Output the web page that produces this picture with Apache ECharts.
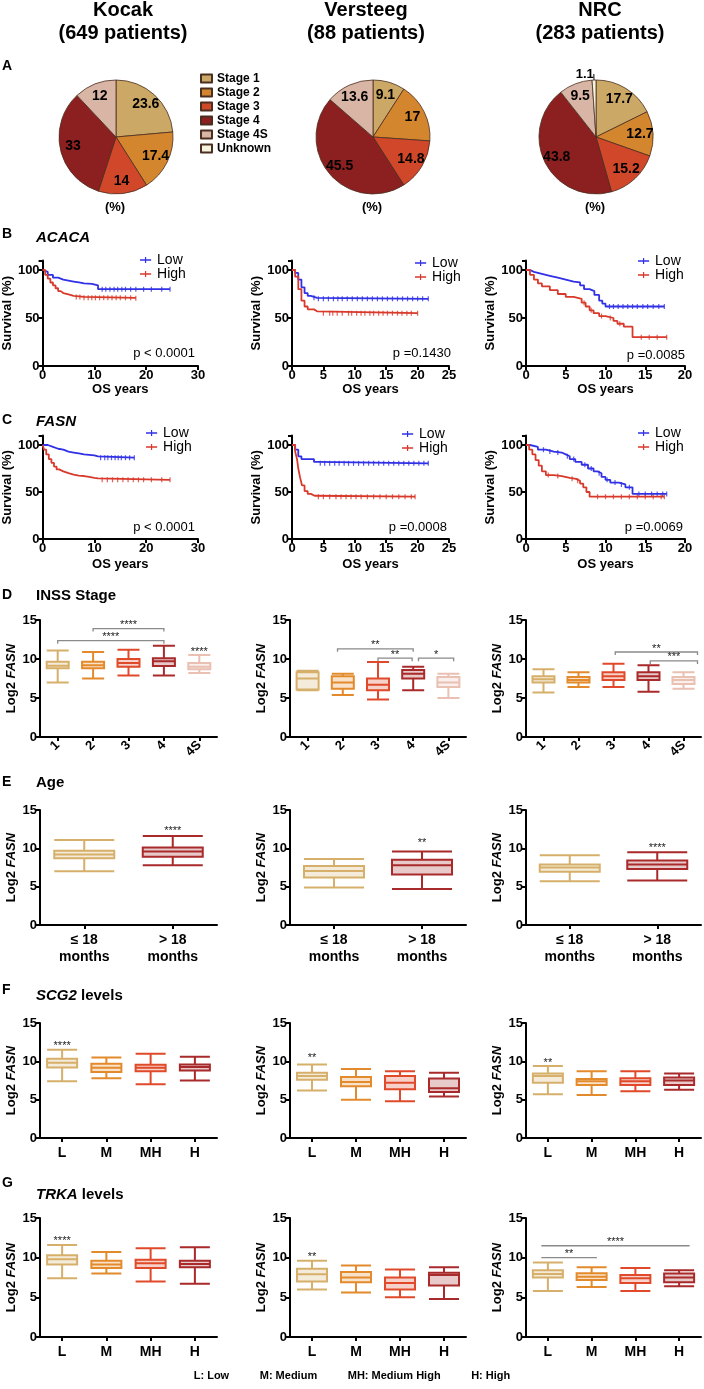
<!DOCTYPE html>
<html><head><meta charset="utf-8">
<script src="https://cdn.jsdelivr.net/npm/echarts@6/dist/echarts.min.js"></script>
<style>html,body{margin:0;padding:0;background:#fff}#c{width:704px;height:1389px}</style>
</head><body><div id="c"></div>
<script>
const FONT = '"Liberation Sans", Arial, Helvetica, sans-serif';
// ---------- titles ----------
const cohortNames = ['Kocak', 'Versteeg', 'NRC'];
const cohortSizes = ['(649 patients)', '(88 patients)', '(283 patients)'];
// ---------- A: pies ----------
const stageNames = ['Stage 1', 'Stage 2', 'Stage 3', 'Stage 4', 'Stage 4S', 'Unknown'];
const stageColors = ['#CBA866', '#D4862F', '#D1472A', '#8C1F1F', '#D9B5A5', '#F5F2DD'];
const pieKocak = [23.6, 17.4, 14, 33, 12, 0];
const pieVersteeg = [9.1, 17, 14.8, 45.5, 13.6, 0];
const pieNRC = [17.7, 12.7, 15.2, 43.8, 9.5, 1.1];
// ---------- B/C: Kaplan-Meier ----------
const kmGroups = ['Low', 'High'];
const pACACA = ['p < 0.0001', 'p =0.1430', 'p =0.0085'];
const pFASN = ['p < 0.0001', 'p =0.0008', 'p =0.0069'];
const acacaKocakLow = [[0,100],[0.3,98],[1,95],[2,92],[3,90],[4,89],[5,88],[6,87],[7,86],[8,85.5],[9.5,84],[10.7,80],[24.6,80]];
const acacaKocakHigh = [[0,100],[0.5,95],[1,91],[1.5,87],[2,84],[2.5,81],[3,78],[3.5,76],[4,74.5],[5,73],[6,72],[8,71],[18,70.5]];
const acacaVersteegLow = [[0,100],[0.5,97],[1,90],[1.5,82],[2,76],[2.5,73],[3,71],[4,70],[21.7,70]];
const acacaVersteegHigh = [[0,100],[0.5,93],[1,80],[1.5,68],[2,62],[2.5,59],[3.5,57],[4,55],[20,55]];
const acacaNRCLow = [[0,100],[0.5,98],[1,96],[2,94],[3,92],[4,90],[5,88],[6,87],[6.8,84],[7.3,80],[8,78],[8.6,74],[9.2,68],[9.6,65],[10,62],[17.4,62]];
const acacaNRCHigh = [[0,100],[0.5,95],[1,90],[1.5,86],[2,83],[3,79],[4,75],[5,72],[6,70],[7,66],[7.5,62],[8,58],[8.5,55],[9.2,52],[10,50],[11,47],[11.5,44],[12.3,41],[13.4,30],[17.7,30]];
const fasnKocakLow = [[0,100],[1,98],[2,96],[3,95],[4,93],[5,92],[6,91],[7,90],[8,89.5],[9,89],[10,88],[10.7,86.5],[17.7,86.5]];
const fasnKocakHigh = [[0,100],[0.3,95],[0.7,90],[1.2,85],[1.7,81],[2.2,77],[2.7,74],[3.2,72],[4,70],[5,68.5],[6,67.5],[7,67],[8,66],[9,65],[10,64.5],[10.7,63],[24.6,63]];
const fasnVersteegLow = [[0,100],[0.5,95],[1,88],[1.5,85],[3.5,82],[4,80.5],[21.7,80.5]];
const fasnVersteegHigh = [[0,100],[0.5,93],[0.8,85],[1,75],[1.3,65],[1.6,57],[2,51],[2.5,48],[3,46],[3.6,45],[19.6,45]];
const fasnNRCLow = [[0,100],[0.5,98],[1.5,95],[2.5,93],[3.5,92],[4.5,90],[5,88],[5.5,85],[6.2,82],[7,79],[7.8,75],[8.5,72],[9,70],[9.5,66],[10,63],[10.6,60],[11.7,58],[12.5,55],[13.4,48],[17.7,48]];
const fasnNRCHigh = [[0,100],[0.4,95],[0.8,90],[1.2,84],[1.6,78],[2,72],[2.5,68],[3.5,67],[4.5,65],[5.5,64],[6.3,62],[6.8,59],[7.2,55],[7.6,50],[8,45],[17.4,45]];
const acacaKocakLowCens = [11.5,12.2,13,13.8,14.5,15.3,16,17,18,19.5,21,23,24.6];
const acacaKocakHighCens = [6.5,7.2,8,8.8,9.5,10.2,11,11.8,12.6,13.4,14.2,15,16,17,18];
const acacaVersteegLowCens = [3.5,4.2,5,5.8,6.6,7.3,8,8.8,9.6,10.4,11.2,12,12.8,13.6,14.4,15.2,16,16.8,17.6,18.4,19.2,20,20.8,21.7];
const acacaVersteegHighCens = [5,6,6.5,7.2,8,9,9.5,10.3,11,11.6,12.4,13,13.8,14.5,15.2,16,16.8,17.5,18.3,19,20];
const acacaNRCLowCens = [10.5,11,11.6,12.2,12.8,13.4,14,14.7,15.3,16,16.7,17.4];
const acacaNRCHighCens = [7.3,8.2,9.5,10.6,11.8,14.5,15.5,16.5,17.7];
const fasnKocakLowCens = [11.2,12,12.6,13.3,14,14.6,15.2,16,16.8,17.7];
const fasnKocakHighCens = [11.5,12.5,13.5,14.5,15.5,16.5,17.5,18.5,19.5,21,23,24.6];
const fasnVersteegLowCens = [4.5,5.2,6,6.8,7.5,8.3,9,9.8,10.6,11.4,12.2,13,13.8,14.6,15.4,16.2,17,17.8,18.6,19.4,20.2,21,21.7];
const fasnVersteegHighCens = [4.2,5,6,7,7.8,8.6,9.4,10.2,11,12,13,14,15,16,17,18,19,19.6];
const fasnNRCLowCens = [2.2,3,4,5.2,6,7.4,8.2,9.2,10.2,11.2,12,13,14.2,15,15.8,16.5,17.2,17.7];
const fasnNRCHighCens = [2.8,4,5.8,6.5,9,10,11,12,13,14,15,16,17,17.4];
// ---------- D-G: box plots [min, Q1, median, Q3, max] ----------
const inssCats = ['1', '2', '3', '4', '4S'];
const ageCats = ['≤ 18\nmonths', '> 18\nmonths'];
const levelCats = ['L', 'M', 'MH', 'H'];
const inssKocak = [[7.0,8.8,9.15,9.65,11.1],[7.5,8.8,9.2,9.65,10.9],[7.9,9.0,9.5,10.0,11.2],[7.9,9.1,9.7,10.1,11.7],[8.2,8.7,9.0,9.5,10.5]];
const inssVersteeg = [[6.0,6.1,7.5,8.3,8.5],[5.4,6.2,7.0,7.8,8.1],[4.8,6.0,6.7,7.5,9.6],[6.0,7.5,8.1,8.6,9.0],[5.0,6.4,7.0,7.7,8.1]];
const inssNRC = [[5.7,7.0,7.4,7.8,8.7],[6.4,7.0,7.3,7.7,8.3],[6.4,7.3,7.8,8.3,9.4],[5.8,7.3,7.8,8.3,9.2],[6.2,6.8,7.3,7.7,8.3]];
const ageKocak = [[7.0,8.7,9.2,9.7,11.1],[7.8,8.9,9.6,10.1,11.6]];
const ageVersteeg = [[4.9,6.2,7.05,7.7,8.6],[4.7,6.6,7.8,8.5,9.6]];
const ageNRC = [[5.7,6.95,7.5,7.9,9.1],[5.8,7.3,7.9,8.4,9.5]];
const scgKocak = [[7.4,9.2,9.8,10.35,11.5],[7.8,8.6,9.17,9.7,10.5],[7.0,8.7,9.17,9.57,11.0],[7.5,8.8,9.26,9.6,10.6]];
const scgVersteeg = [[6.2,7.6,8.1,8.5,9.6],[5.0,6.75,7.3,7.95,9.0],[4.8,6.35,7.2,8.1,8.7],[5.4,6.0,6.5,7.75,8.5]];
const scgNRC = [[5.7,7.2,8.1,8.4,9.4],[5.6,6.9,7.4,7.7,8.7],[6.1,6.9,7.4,7.8,8.7],[6.3,6.9,7.5,7.9,8.4]];
const trkaKocak = [[7.4,9.15,9.8,10.3,11.6],[8.0,8.7,9.15,9.6,10.7],[7.0,8.7,9.3,9.75,11.2],[6.7,8.8,9.2,9.6,11.3]];
const trkaVersteeg = [[6.0,7.0,7.9,8.6,9.6],[5.6,6.9,7.5,8.2,9.0],[5.0,6.0,6.8,7.5,8.5],[4.8,6.5,7.8,8.1,8.8]];
const trkaNRC = [[5.8,7.5,7.95,8.4,9.4],[6.3,7.2,7.6,8.05,8.8],[5.8,6.8,7.4,7.8,8.7],[6.4,6.9,7.5,8.0,8.4]];
// significance: [fromCategory, toCategory, log2 level, label, endTicks]
const sigInssKocak = [[1,3,13.9,'****',1],[0,3,12.35,'****',1],[4,4,11.3,'****',0]];
const sigInssVersteeg = [[0.85,3,11.3,'**',1],[2,2.97,10.1,'**',1],[3.15,4.15,10.1,'*',1]];
const sigInssNRC = [[2.05,4.4,10.9,'**',1],[3.05,4.4,9.75,'***',1]];
const sigAgeKocak = [[1,1,12.6,'****',0]];
const sigAgeVersteeg = [[1,1,11.1,'**',0]];
const sigAgeNRC = [[1,1,10.4,'****',0]];
const sigScgKocak = [[0,0,12.4,'****',0]];
const sigScgVersteeg = [[0,0,10.8,'**',0]];
const sigScgNRC = [[0,0,10.2,'**',0]];
const sigTrkaKocak = [[0,0,12.5,'****',0]];
const sigTrkaVersteeg = [[0,0,10.5,'**',0]];
const sigTrkaNRC = [[-0.15,3.24,11.5,'****',0],[-0.15,1.12,10.0,'**',0]];
const footerText = 'L: Low          M: Medium          MH: Medium High          H: High';

// ======================= build =======================
const BLUE = '#3030E6', RED = '#D8392B';
const C_TAN = '#D6B06A', C_OR = '#E38A2C', C_RD = '#E04A2A', C_DR = '#A92A2A', C_PK = '#E9C0B2';
const BOLD = {fontFamily: FONT, fontWeight: 'bold', color: '#000'};
const grids = [], xAxes = [], yAxes = [], series = [], legends = [], graphics = [];
const axLine = {show: true, lineStyle: {color: '#000', width: 2}};
const axTick = {show: true, inside: false, length: 4, lineStyle: {color: '#000', width: 2}};
function addGrid(left, top, width, height) { grids.push({left, top, width, height}); return grids.length - 1; }
function text(x, y, t, style) {
  graphics.push({type: 'text', x, y, silent: true, style: Object.assign({text: t, fontFamily: FONT, fontWeight: 'bold', fontSize: 13, fill: '#000', align: 'center', verticalAlign: 'middle'}, style || {})});
}
function survAt(curve, t) { let v = curve[0][1]; for (const p of curve) { if (p[0] <= t) v = p[1]; } return v; }

// titles
const titleX = [123, 366, 600];
cohortNames.forEach((n, i) => { text(titleX[i], 10, n, {fontSize: 20}); text(titleX[i], 33, cohortSizes[i], {fontSize: 20}); });
// panel letters & subtitles
[['A',66],['B',234],['C',420],['D',595],['E',782],['F',990],['G',1183]].forEach(d => text(2, d[1], d[0], {align: 'left', fontSize: 14}));
graphics.push({type: 'text', x: 36, y: 238, silent: true, style: {text: 'ACACA', fontFamily: FONT, fontWeight: 'bold', fontStyle: 'italic', fontSize: 15, fill: '#000', verticalAlign: 'middle'}});
graphics.push({type: 'text', x: 36, y: 422, silent: true, style: {text: 'FASN', fontFamily: FONT, fontWeight: 'bold', fontStyle: 'italic', fontSize: 15, fill: '#000', verticalAlign: 'middle'}});
text(36, 596, 'INSS Stage', {align: 'left', fontSize: 15});
text(36, 783, 'Age', {align: 'left', fontSize: 15});
graphics.push({type: 'text', x: 36, y: 996, silent: true, style: {text: '{i|SCG2} levels', rich: {i: {fontStyle: 'italic', fontWeight: 'bold', fontFamily: FONT, fontSize: 15}}, fontFamily: FONT, fontWeight: 'bold', fontSize: 15, fill: '#000', verticalAlign: 'middle'}});
graphics.push({type: 'text', x: 36, y: 1195, silent: true, style: {text: '{i|TRKA} levels', rich: {i: {fontStyle: 'italic', fontWeight: 'bold', fontFamily: FONT, fontSize: 15}}, fontFamily: FONT, fontWeight: 'bold', fontSize: 15, fill: '#000', verticalAlign: 'middle'}});
text(352, 1376, footerText, {fontSize: 11, whiteSpace: 'pre'});

// ---------- pies ----------
const pieCenters = [[116,137],[373,137],[596,137]];
const pieR = 57;
[pieKocak, pieVersteeg, pieNRC].forEach((vals, k) => {
  const items = [];
  vals.forEach((v, i) => { if (v > 0) items.push({name: stageNames[i], value: v, itemStyle: {color: stageColors[i]}}); });
  series.push({type: 'pie', center: pieCenters[k], radius: [0, pieR], startAngle: 90, clockwise: true, silent: true,
    itemStyle: {borderColor: '#4a2e20', borderWidth: 0.8},
    label: {show: false},
    labelLine: {show: false},
    data: items.map(d => Object.assign({}, d, d.name === 'Unknown' ? {
      label: {show: true, position: 'outside', formatter: p => String(p.value), fontFamily: FONT, fontWeight: 'bold', fontSize: 13, color: '#000', distanceToLabelLine: 0, align: 'center', verticalAlign: 'bottom'},
      labelLine: {show: true, length: 6, length2: 0, lineStyle: {color: '#000', width: 1}}} : {}))});
  series.push({type: 'pie', center: pieCenters[k], radius: [0, pieR / 0.68 * 0.98], startAngle: 90, clockwise: true, silent: true,
    itemStyle: {color: 'rgba(0,0,0,0)', borderWidth: 0},
    label: {show: true, position: 'inside', formatter: p => p.name === 'Unknown ' ? '' : String(p.value), fontFamily: FONT, fontWeight: 'bold', fontSize: 14, color: '#000'},
    labelLine: {show: false}, legendHoverLink: false,
    data: items.map(d => ({name: d.name + ' ', value: d.value}))});
  text(pieCenters[k][0] - 1, 207, '(%)');
});
legends.push({data: stageNames, orient: 'vertical', left: 200, top: 72.5, itemWidth: 11, itemHeight: 8, itemGap: 2, icon: 'rect', padding: 0, selectedMode: false,
  textStyle: {fontFamily: FONT, fontWeight: 'bold', fontSize: 12, lineHeight: 11, color: '#000'}});

// ---------- KM ----------
const kmCols = [{left: 40, w: 158, max: 30, iv: 10}, {left: 292, w: 157, max: 25, iv: 5}, {left: 526, w: 159, max: 20, iv: 5}];
const kmRows = [
  {top: 260.4, h: 105.6, nameGap: 17, legLeft: [140, 415, 638], legTop: [253, 256, 254], pRight: [195, 451, 685], pY: [353, 353, 355], p: pACACA,
   curves: [[acacaKocakLow, acacaKocakHigh, acacaKocakLowCens, acacaKocakHighCens], [acacaVersteegLow, acacaVersteegHigh, acacaVersteegLowCens, acacaVersteegHighCens], [acacaNRCLow, acacaNRCHigh, acacaNRCLowCens, acacaNRCHighCens]]},
  {top: 435.6, h: 103.4, nameGap: 19, legLeft: [146, 402, 638], legTop: [426, 427, 426], pRight: [195, 447, 683], pY: [527, 527, 527], p: pFASN,
   curves: [[fasnKocakLow, fasnKocakHigh, fasnKocakLowCens, fasnKocakHighCens], [fasnVersteegLow, fasnVersteegHigh, fasnVersteegLowCens, fasnVersteegHighCens], [fasnNRCLow, fasnNRCHigh, fasnNRCLowCens, fasnNRCHighCens]]}
];
const kmIcon = 'path://M0,4.2H13V5.8H0Z M5.8,1.5H7.2V8.5H5.8Z';
kmRows.forEach(row => {
  kmCols.forEach((col, c) => {
    const gi = addGrid(col.left, row.top, col.w, row.h);
    xAxes.push({type: 'value', gridIndex: gi, min: 0, max: col.max, interval: col.iv, name: 'OS years', nameLocation: 'middle', nameGap: row.nameGap,
      nameTextStyle: Object.assign({fontSize: 13}, BOLD), axisLine: axLine, axisTick: axTick, axisLabel: Object.assign({fontSize: 13, margin: 3}, BOLD), splitLine: {show: false}});
    yAxes.push({type: 'value', gridIndex: gi, min: 0, max: 110, interval: 50, name: 'Survival (%)', nameLocation: 'middle', nameGap: 24, nameRotate: 90,
      nameTextStyle: Object.assign({fontSize: 13}, BOLD), axisLine: axLine, axisTick: axTick,
      axisLabel: Object.assign({fontSize: 13, margin: 3, formatter: v => (v % 50 === 0 ? String(v) : '')}, BOLD), splitLine: {show: false}});
    const cv = row.curves[c];
    [[cv[0], cv[2], BLUE, 'Low'], [cv[1], cv[3], RED, 'High']].forEach(s => {
      series.push({type: 'line', name: s[3], xAxisIndex: gi, yAxisIndex: gi, data: s[0], step: 'end', symbol: 'none', silent: true,
        lineStyle: {color: s[2], width: 1.8}, itemStyle: {color: s[2]}});
      series.push({type: 'scatter', xAxisIndex: gi, yAxisIndex: gi, silent: true, data: s[1].map(t => [t, survAt(s[0], t)]),
        symbol: 'rect', symbolSize: [1.2, 5], itemStyle: {color: s[2]}});
    });
    legends.push({data: kmGroups, orient: 'vertical', left: row.legLeft[c], top: row.legTop[c], itemWidth: 13, itemHeight: 6, itemGap: 0, icon: kmIcon, padding: 0, selectedMode: false,
      textStyle: {fontFamily: FONT, fontSize: 14, lineHeight: 12, color: '#000'}});
    text(row.pRight[c], row.pY[c], row.p[c], {align: 'right', fontWeight: 'normal', fontSize: 13});
  });
});

// ---------- box plots ----------
const boxCols = [{left: 40, w: 177}, {left: 290, w: 176}, {left: 526, w: 175}];
const boxRows = [
  {top: 620, h: 117, cats: inssCats, rotate: 45, bw: 22, colors: [C_TAN, C_OR, C_RD, C_DR, C_PK], data: [inssKocak, inssVersteeg, inssNRC], sig: [sigInssKocak, sigInssVersteeg, sigInssNRC]},
  {top: 810, h: 115, cats: ageCats, rotate: 0, bw: 60, colors: [C_TAN, C_DR], data: [ageKocak, ageVersteeg, ageNRC], sig: [sigAgeKocak, sigAgeVersteeg, sigAgeNRC]},
  {top: 1023, h: 115, cats: levelCats, rotate: 0, bw: 30, colors: [C_TAN, C_OR, C_RD, C_DR], data: [scgKocak, scgVersteeg, scgNRC], sig: [sigScgKocak, sigScgVersteeg, sigScgNRC]},
  {top: 1218, h: 119, cats: levelCats, rotate: 0, bw: 30, colors: [C_TAN, C_OR, C_RD, C_DR], data: [trkaKocak, trkaVersteeg, trkaNRC], sig: [sigTrkaKocak, sigTrkaVersteeg, sigTrkaNRC]}
];
function sigSeries(gi, items, nCats) {
  return {type: 'custom', xAxisIndex: gi, yAxisIndex: gi, silent: true, z: 10,
    data: items.map(d => [0, d[2]]),
    renderItem: function (params, api) {
      const d = items[params.dataIndex];
      const band = api.size([1, 0])[0];
      const px = v => { const i = Math.min(nCats - 1, Math.max(0, Math.round(v))); return api.coord([i, 0])[0] + (v - i) * band; };
      const y = api.coord([0, d[2]])[1];
      const x1 = px(d[0]), x2 = px(d[1]);
      const ch = [];
      const ts = {fontFamily: FONT, fontSize: 11, fill: '#222', align: 'center', textAlign: 'center'};
      if (d[0] !== d[1]) {
        const pts = d[4] ? [[x1, y + 3], [x1, y], [x2, y], [x2, y + 3]] : [[x1, y], [x2, y]];
        ch.push({type: 'polyline', shape: {points: pts}, style: {stroke: '#8a8a8a', lineWidth: 1.3, fill: null}});
        ch.push({type: 'text', style: Object.assign({text: d[3], x: (x1 + x2) / 2, y: y + 2, verticalAlign: 'bottom', textVerticalAlign: 'bottom'}, ts)});
      } else {
        ch.push({type: 'text', style: Object.assign({text: d[3], x: x1, y: y + 3, verticalAlign: 'middle', textVerticalAlign: 'middle'}, ts)});
      }
      return {type: 'group', children: ch};
    }};
}
boxRows.forEach(row => {
  boxCols.forEach((col, c) => {
    const gi = addGrid(col.left, row.top, col.w, row.h);
    xAxes.push({type: 'category', gridIndex: gi, data: row.cats, boundaryGap: true, axisLine: axLine,
      axisTick: Object.assign({alignWithLabel: true}, axTick),
      axisLabel: Object.assign({fontSize: row.rotate ? 13 : 14, margin: row.rotate ? 6 : 7, rotate: row.rotate, lineHeight: 17, interval: 0}, BOLD), splitLine: {show: false}});
    yAxes.push({type: 'value', gridIndex: gi, min: 0, max: 15, interval: 5, name: '{a|Log2 }{b|FASN}', nameLocation: 'middle', nameGap: 22, nameRotate: 90,
      nameTextStyle: {rich: {a: {fontFamily: FONT, fontWeight: 'bold', fontSize: 13, color: '#000'}, b: {fontFamily: FONT, fontWeight: 'bold', fontStyle: 'italic', fontSize: 13, color: '#000'}}},
      axisLine: axLine, axisTick: axTick, axisLabel: Object.assign({fontSize: 13, margin: 3}, BOLD), splitLine: {show: false}});
    series.push({type: 'boxplot', xAxisIndex: gi, yAxisIndex: gi, silent: true, boxWidth: [row.bw, row.bw],
      data: row.data[c].map((v, i) => ({value: v, itemStyle: {color: row.colors[i] + '40', borderColor: row.colors[i], borderWidth: 2}}))});
    series.push(sigSeries(gi, row.sig[c], row.cats.length));
  });
});

const chart = echarts.init(document.getElementById('c'), null, {renderer: 'canvas', width: 704, height: 1389});
chart.setOption({animation: false, backgroundColor: '#fff', grid: grids, xAxis: xAxes, yAxis: yAxes, legend: legends, series: series, graphic: graphics});
</script></body></html>
